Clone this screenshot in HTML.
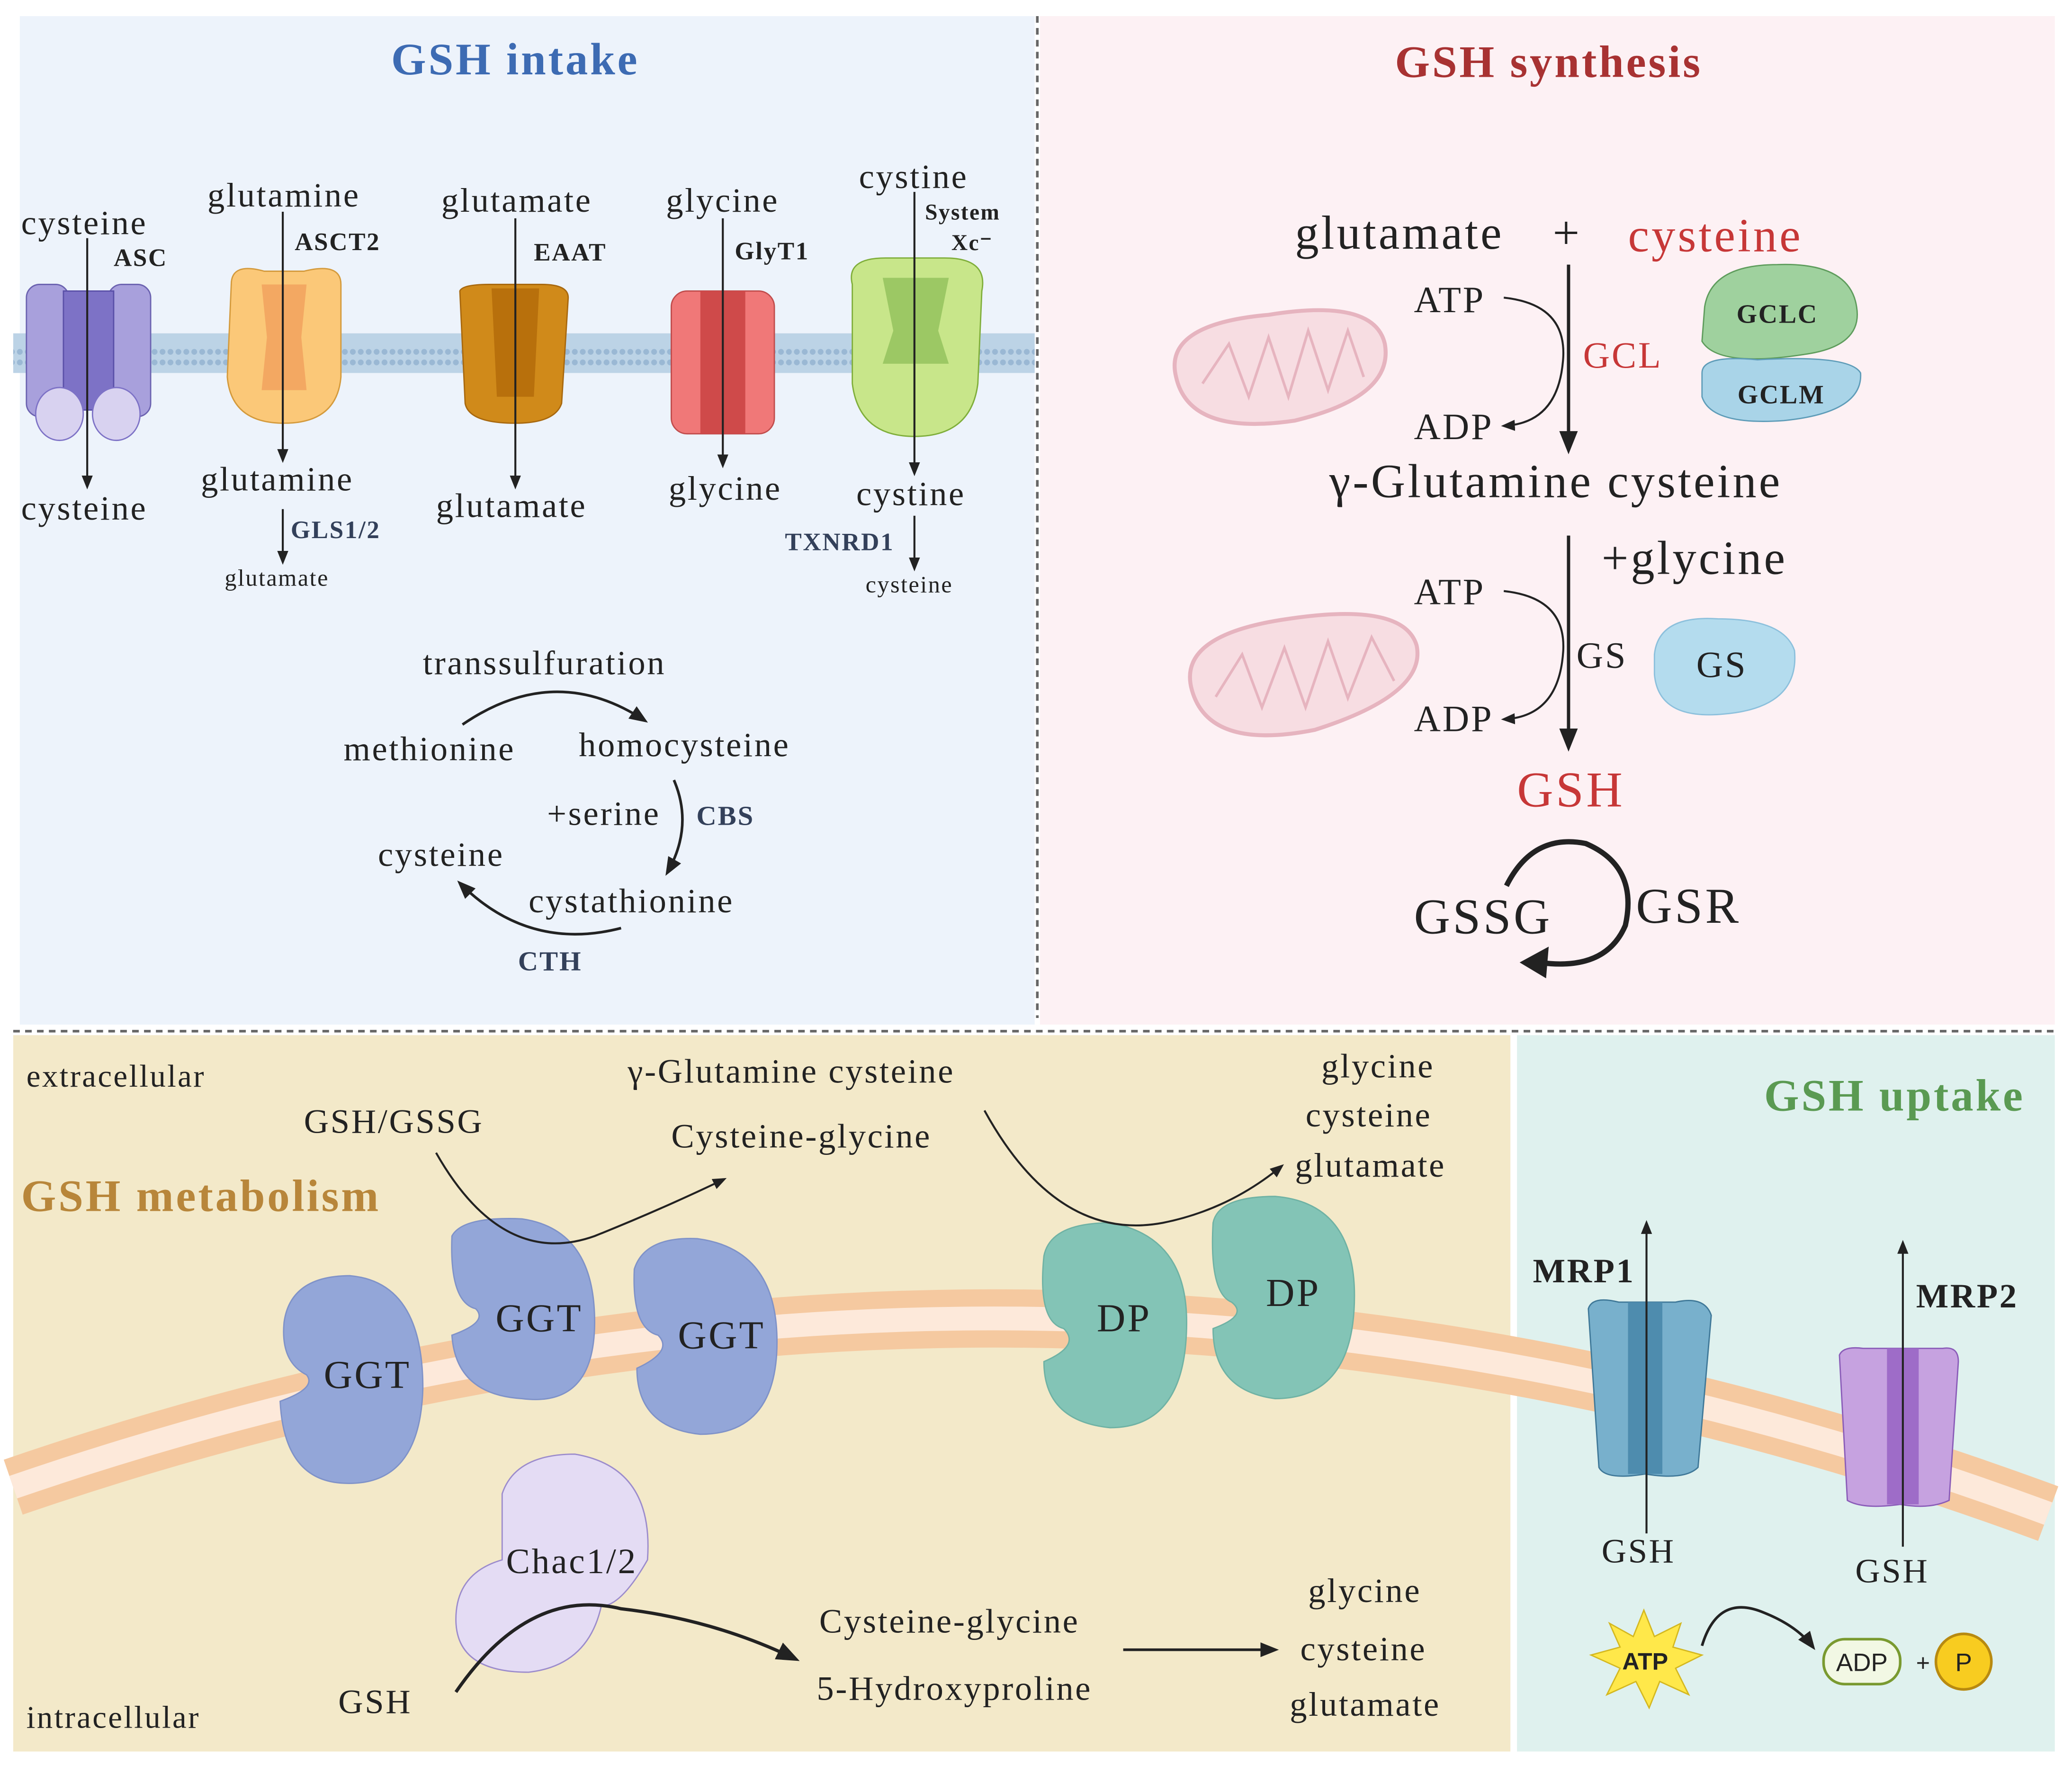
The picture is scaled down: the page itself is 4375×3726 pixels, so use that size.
<!DOCTYPE html>
<html><head><meta charset="utf-8"><style>
html,body{margin:0;padding:0;background:#fff}
svg{display:block}
text{font-family:"Liberation Serif",serif;fill:#222;letter-spacing:0.05em}
.b{font-weight:bold}
</style></head><body>
<svg width="4375" height="3726" viewBox="0 0 1568 1335" xmlns="http://www.w3.org/2000/svg">
<defs>
<marker id="a" viewBox="0 0 10 10" refX="8" refY="5" markerWidth="7" markerHeight="7" orient="auto"><path d="M0,1 L10,5 L0,9 z" fill="#222"/></marker>
<pattern id="mem" width="6" height="30" patternUnits="userSpaceOnUse"><rect width="6" height="30" fill="#bcd3e6"/><circle cx="3" cy="4" r="2.2" fill="#9ab8d4"/><circle cx="3" cy="26" r="2.2" fill="#9ab8d4"/></pattern>
</defs>
<rect width="1568" height="1335" fill="#fff"/>
<rect x="15" y="12" width="768" height="763" fill="#edf3fb"/>
<rect x="787" y="12" width="768" height="763" fill="#fdf1f4"/>
<rect x="10" y="783" width="1133" height="542" fill="#f3e9c9"/>
<rect x="1148" y="783" width="407" height="542" fill="#dff1ee"/>
<line x1="785" y1="12" x2="785" y2="770" stroke="#666" stroke-width="2" stroke-dasharray="5,4"/>
<line x1="10" y1="780" x2="1555" y2="780" stroke="#666" stroke-width="2" stroke-dasharray="5,4"/>

<rect x="10" y="252" width="773" height="30" fill="url(#mem)"/>

<text x="390" y="56" font-size="34" class="b" text-anchor="middle" style="fill:#3d6bb3">GSH intake</text>
<text x="1172" y="58" font-size="34" class="b" text-anchor="middle" style="fill:#a83232">GSH synthesis</text>

<g>
<rect x="20" y="215" width="32" height="100" rx="10" fill="#a8a0dc" stroke="#6b62b0"/>
<rect x="82" y="215" width="32" height="100" rx="10" fill="#a8a0dc" stroke="#6b62b0"/>
<rect x="48" y="220" width="38" height="90" fill="#7d72c6" stroke="#5a50a8"/>
<ellipse cx="45" cy="313" rx="18" ry="20" fill="#d8d2f0" stroke="#7d72c6"/>
<ellipse cx="88" cy="313" rx="18" ry="20" fill="#d8d2f0" stroke="#7d72c6"/>
</g>
<path d="M175,215 Q175,198 200,205 L230,205 Q258,198 258,215 L258,285 Q255,320 215,320 Q175,320 172,285 Z" fill="#fbc878" stroke="#d49a3c"/>
<path d="M198,215 L232,215 L228,255 L232,295 L198,295 L202,255Z" fill="#f3a862"/>
<path d="M348,220 Q350,215 370,215 L410,215 Q430,215 430,225 L425,305 Q420,320 390,320 Q355,320 352,305 Z" fill="#d08a1a" stroke="#a8680e"/>
<path d="M372,218 L408,218 L404,300 L376,300Z" fill="#b8700c"/>
<rect x="508" y="220" width="78" height="108" rx="12" fill="#f07878" stroke="#c04c4c"/>
<rect x="530" y="220" width="34" height="108" fill="#cf4a4a"/>
<path d="M645,215 Q640,195 670,195 L715,195 Q748,195 743,220 L740,290 Q735,330 692,330 Q650,330 645,290Z" fill="#c8e68a" stroke="#7fae3a"/>
<path d="M668,210 L718,210 L710,250 L718,275 L668,275 L676,250Z" fill="#9cc864"/>

<g stroke="#222" stroke-width="1.5" marker-end="url(#a)">
<line x1="66" y1="180" x2="66" y2="368"/>
<line x1="214" y1="160" x2="214" y2="348"/>
<line x1="390" y1="165" x2="390" y2="368"/>
<line x1="547" y1="165" x2="547" y2="352"/>
<line x1="692" y1="145" x2="692" y2="358"/>
<line x1="214" y1="385" x2="214" y2="425"/>
<line x1="692" y1="390" x2="692" y2="430"/>
</g>
<g font-size="26">
<text x="16" y="177">cysteine</text>
<text x="16" y="393">cysteine</text>
<text x="157" y="156">glutamine</text>
<text x="152" y="371">glutamine</text>
<text x="334" y="160">glutamate</text>
<text x="330" y="391">glutamate</text>
<text x="504" y="160">glycine</text>
<text x="506" y="378">glycine</text>
<text x="650" y="142">cystine</text>
<text x="648" y="382">cystine</text>
</g>
<g font-size="18">
<text x="170" y="443">glutamate</text>
<text x="655" y="448">cysteine</text>
</g>
<g font-size="19" class="b">
<text x="86" y="201">ASC</text>
<text x="223" y="189">ASCT2</text>
<text x="404" y="197">EAAT</text>
<text x="556" y="196">GlyT1</text>
<text x="700" y="166" font-size="17">System</text>
<text x="720" y="189" font-size="17">Xc⁻</text>
<text x="220" y="407" style="fill:#33405a">GLS1/2</text>
<text x="594" y="416" style="fill:#33405a">TXNRD1</text>
</g>

<g font-size="26">
<text x="320" y="510">transsulfuration</text>
<text x="260" y="575">methionine</text>
<text x="438" y="572">homocysteine</text>
<text x="414" y="624">+serine</text>
<text x="286" y="655">cysteine</text>
<text x="400" y="690">cystathionine</text>
</g>
<text x="527" y="624" font-size="21" class="b" style="fill:#33405a">CBS</text>
<text x="392" y="734" font-size="21" class="b" style="fill:#33405a">CTH</text>
<g fill="none" stroke="#222" stroke-width="2" marker-end="url(#a)">
<path d="M350,548 Q420,500 488,545"/>
<path d="M510,590 Q525,625 505,660"/>
<path d="M470,702 Q400,720 348,668"/>
</g>

<g font-size="36">
<text x="980" y="188">glutamate</text>
<text x="1175" y="188">+</text>
<text x="1232" y="190" style="fill:#c73737">cysteine</text>
<text x="1006" y="376">γ-Glutamine cysteine</text>
<text x="1212" y="434">+glycine</text>
</g>
<text x="1148" y="610" font-size="38" style="fill:#c73737">GSH</text>
<g font-size="28">
<text x="1070" y="236">ATP</text>
<text x="1070" y="332">ADP</text>
<text x="1070" y="457">ATP</text>
<text x="1070" y="553">ADP</text>
<text x="1198" y="278" style="fill:#c73737">GCL</text>
<text x="1193" y="505">GS</text>
</g>
<g stroke="#222" stroke-width="2.5" marker-end="url(#a)">
<line x1="1187" y1="200" x2="1187" y2="340"/>
<line x1="1187" y1="405" x2="1187" y2="565"/>
</g>
<g fill="none" stroke="#222" stroke-width="1.5" marker-end="url(#a)">
<path d="M1138,225 Q1185,230 1183,270 Q1180,320 1138,322"/>
<path d="M1138,447 Q1185,452 1183,492 Q1180,542 1138,544"/>
</g>
<g fill="#f7dde2" stroke="#e6b4bf" stroke-width="3">
<path d="M890,285 Q880,245 960,238 Q1040,225 1048,260 Q1055,300 980,318 Q900,330 890,285Z"/>
<path d="M902,522 Q890,480 975,468 Q1062,455 1072,488 Q1080,525 995,552 Q915,568 902,522Z"/>
</g>
<g fill="none" stroke="#e6b4bf" stroke-width="2">
<path d="M910,290 L930,260 L945,300 L960,255 L975,300 L990,250 L1005,295 L1020,250 L1032,285"/>
<path d="M920,527 L940,495 L955,535 L972,490 L988,535 L1005,485 L1020,528 L1038,482 L1055,515"/>
</g>
<path d="M1290,232 Q1295,200 1345,200 Q1400,198 1405,232 Q1410,262 1365,268 Q1300,278 1288,258Z" fill="#9fd19e" stroke="#5e9c5c"/>
<path d="M1288,282 Q1288,268 1330,272 Q1400,268 1408,282 Q1410,312 1350,318 Q1295,322 1288,300Z" fill="#a9d4e8" stroke="#5e9cb8"/>
<text x="1345" y="244" font-size="20" class="b" text-anchor="middle">GCLC</text>
<text x="1348" y="305" font-size="20" class="b" text-anchor="middle">GCLM</text>
<path d="M1252,495 Q1255,465 1300,468 Q1350,468 1358,492 Q1362,535 1305,540 Q1255,545 1252,510Z" fill="#b4dcee" stroke="#8cc0dc"/>
<text x="1303" y="512" font-size="28" text-anchor="middle">GS</text>
<text x="1070" y="706" font-size="38">GSSG</text>
<text x="1238" y="698" font-size="38">GSR</text>
<path d="M1140,670 Q1160,630 1200,638 Q1240,655 1230,700 Q1215,735 1165,728" fill="none" stroke="#222" stroke-width="4"/>
<path d="M1150,728 L1172,716 L1170,740Z" fill="#222"/>

<path d="M10,1125 Q780,860 1550,1145" fill="none" stroke="#f5c9a0" stroke-width="44"/>
<path d="M10,1125 Q780,860 1550,1145" fill="none" stroke="#fde9da" stroke-width="18"/>

<text x="20" y="822" font-size="24">extracellular</text>
<text x="20" y="1307" font-size="24">intracellular</text>
<text x="16" y="916" font-size="34" class="b" style="fill:#b8863a">GSH metabolism</text>
<text x="1335" y="840" font-size="34" class="b" style="fill:#5a9a52">GSH uptake</text>
<g font-size="26">
<text x="230" y="857">GSH/GSSG</text>
<text x="475" y="819">γ-Glutamine cysteine</text>
<text x="508" y="868">Cysteine-glycine</text>
<text x="1000" y="815">glycine</text>
<text x="988" y="852">cysteine</text>
<text x="980" y="890">glutamate</text>
<text x="620" y="1235">Cysteine-glycine</text>
<text x="618" y="1286">5-Hydroxyproline</text>
<text x="990" y="1212">glycine</text>
<text x="984" y="1256">cysteine</text>
<text x="976" y="1298">glutamate</text>
<text x="256" y="1296">GSH</text>
<text x="1212" y="1182">GSH</text>
<text x="1404" y="1197">GSH</text>
</g>
<g fill="#93a6d8" stroke="#7f92c8">
<path d="M215,1000 Q220,965 265,965 Q320,970 320,1050 Q318,1125 260,1122 Q215,1120 212,1060 Q240,1050 232,1040 Q212,1030 215,1000Z"/>
<path d="M342,935 Q350,920 395,922 Q450,930 450,1000 Q450,1065 395,1058 Q345,1055 342,1010 Q370,1000 360,990 Q340,985 342,935Z"/>
<path d="M480,960 Q488,935 528,937 Q588,945 588,1015 Q588,1085 530,1085 Q482,1080 482,1035 Q510,1022 498,1010 Q478,1005 480,960Z"/>
</g>
<g fill="#83c4b6" stroke="#6fb2a4">
<path d="M790,950 Q795,925 840,925 Q898,935 898,1000 Q898,1080 840,1080 Q790,1075 790,1030 Q818,1018 805,1005 Q785,1000 790,950Z"/>
<path d="M918,925 Q922,905 965,905 Q1025,910 1025,980 Q1025,1058 965,1058 Q918,1052 918,1005 Q945,995 932,985 Q915,978 918,925Z"/>
</g>
<g font-size="30">
<text x="245" y="1050">GGT</text>
<text x="375" y="1007">GGT</text>
<text x="513" y="1020">GGT</text>
<text x="830" y="1007">DP</text>
<text x="958" y="988">DP</text>
</g>
<g fill="none" stroke="#222" stroke-width="1.5" marker-end="url(#a)">
<path d="M330,872 Q380,960 450,935 Q500,915 548,892"/>
<path d="M745,840 Q800,940 880,925 Q930,915 970,882"/>
</g>
<path d="M380,1130 Q390,1100 435,1100 Q495,1110 490,1180 Q470,1215 455,1215 Q445,1260 400,1265 Q345,1265 345,1225 Q345,1190 380,1180Z" fill="#e4dcf4" stroke="#9c8ccc"/>
<text x="383" y="1190" font-size="27">Chac1/2</text>
<path d="M345,1280 Q400,1200 470,1217 Q540,1225 602,1255" fill="none" stroke="#222" stroke-width="2.5" marker-end="url(#a)"/>
<line x1="850" y1="1248" x2="965" y2="1248" stroke="#222" stroke-width="2" marker-end="url(#a)"/>
<path d="M1202,990 Q1205,980 1225,985 L1268,985 Q1290,980 1295,995 L1285,1110 Q1275,1120 1245,1115 Q1215,1120 1210,1110Z" fill="#78b0cc" stroke="#3f7898"/>
<rect x="1232" y="985" width="26" height="130" fill="#4e8cae"/>
<path d="M1392,1025 Q1395,1018 1410,1020 L1470,1020 Q1482,1018 1482,1030 L1475,1135 Q1460,1142 1438,1138 Q1410,1142 1398,1135Z" fill="#c6a2e0" stroke="#8a5cb8"/>
<rect x="1428" y="1020" width="24" height="118" fill="#9e6cc8"/>
<g stroke="#222" stroke-width="1.5" marker-end="url(#a)">
<line x1="1246" y1="1160" x2="1246" y2="925"/>
<line x1="1440" y1="1170" x2="1440" y2="940"/>
</g>
<text x="1160" y="970" font-size="26" class="b">MRP1</text>
<text x="1450" y="989" font-size="26" class="b">MRP2</text>
<polygon points="1244,1218 1252,1238 1272,1228 1266,1246 1288,1252 1268,1262 1278,1282 1256,1272 1248,1292 1238,1272 1216,1282 1226,1262 1204,1252 1226,1246 1218,1228 1236,1238" fill="#ffe84a" stroke="#d4b820"/>
<text x="1245" y="1263" font-size="18" class="b" text-anchor="middle" style="font-family:'Liberation Sans',sans-serif;letter-spacing:0">ATP</text>
<path d="M1288,1245 Q1300,1205 1335,1220 Q1360,1230 1372,1246" fill="none" stroke="#222" stroke-width="2" marker-end="url(#a)"/>
<rect x="1380" y="1240" width="58" height="34" rx="16" fill="#f2f8e4" stroke="#7a9a30" stroke-width="2"/>
<text x="1409" y="1264" font-size="19" text-anchor="middle" style="font-family:'Liberation Sans',sans-serif;letter-spacing:0">ADP</text>
<text x="1450" y="1264" font-size="18" style="font-family:'Liberation Sans',sans-serif">+</text>
<circle cx="1486" cy="1257" r="21" fill="#f8cc20" stroke="#b88a10" stroke-width="2"/>
<text x="1486" y="1264" font-size="19" text-anchor="middle" style="font-family:'Liberation Sans',sans-serif;letter-spacing:0">P</text>
</svg>
</body></html>
